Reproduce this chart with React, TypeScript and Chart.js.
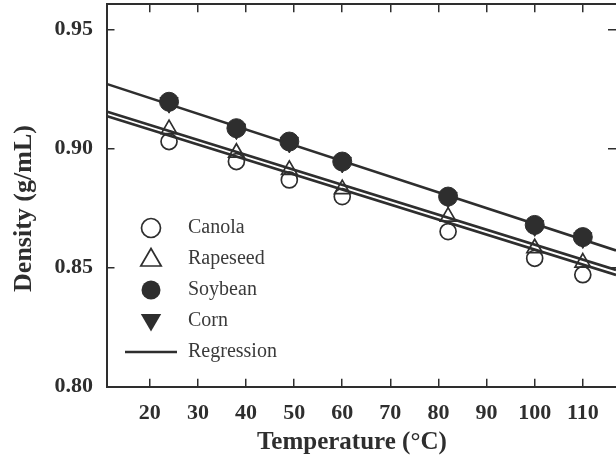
import React, { useEffect, useRef } from "react";
import { Chart, registerables } from "chart.js";

Chart.register(...registerables);

// ---- data ----
const temperatures = [24, 38, 49, 60, 82, 100, 110];
const canola = [0.9029, 0.8945, 0.8868, 0.8798, 0.8651, 0.8539, 0.847];
const rapeseed = [0.9081, 0.8982, 0.891, 0.8829, 0.8714, 0.8581, 0.8521];
const soybean = [0.9196, 0.9085, 0.9029, 0.8945, 0.8798, 0.8679, 0.8628];
const corn = [0.9192, 0.9081, 0.9025, 0.8941, 0.8794, 0.8675, 0.8624];

const regressionX = [11, 116.9];
const soybeanFit = [0.9271, 0.8572];
const rapeseedFit = [0.9155, 0.849];
const canolaFit = [0.9136, 0.8469];

const xTicks = [20, 30, 40, 50, 60, 70, 80, 90, 100, 110];
const yTicks = [0.8, 0.85, 0.9, 0.95];
const legendNames = ["Canola", "Rapeseed", "Soybean", "Corn", "Regression"];
const legendKinds = ["circle", "up", "disc", "down", "line"];

const INK = "#2e2e2e";
const SERIF = "'Liberation Serif', 'Times New Roman', serif";

function makeMarker(kind: string): HTMLCanvasElement {
  const c = document.createElement("canvas");
  if (kind === "line") {
    c.width = 52;
    c.height = 4;
    const g = c.getContext("2d")!;
    g.strokeStyle = INK;
    g.lineWidth = 2.6;
    g.beginPath();
    g.moveTo(0, 2);
    g.lineTo(52, 2);
    g.stroke();
    return c;
  }
  c.width = 26;
  c.height = 26;
  const g = c.getContext("2d")!;
  g.strokeStyle = INK;
  g.fillStyle = INK;
  g.lineWidth = 1.7;
  const cx = 13;
  const cy = 13;
  g.beginPath();
  if (kind === "circle" || kind === "disc") {
    g.arc(cx, cy, 9.5, 0, Math.PI * 2);
  } else if (kind === "up") {
    g.moveTo(cx, cy - 10.5);
    g.lineTo(cx + 10.2, cy + 7);
    g.lineTo(cx - 10.2, cy + 7);
    g.closePath();
  } else {
    g.moveTo(cx, cy + 10.5);
    g.lineTo(cx + 10.2, cy - 7);
    g.lineTo(cx - 10.2, cy - 7);
    g.closePath();
  }
  if (kind === "disc" || kind === "down") g.fill();
  else g.stroke();
  return c;
}

const legendPlacer = {
  id: "legendPlacer",
  beforeDraw(chart: any) {
    const lg = chart.legend;
    if (!lg) return;
    lg.left = 113;
    lg.top = 207;
    lg.right = 420;
    lg.bottom = 384;
    lg.width = 307;
    lg.height = 177;
  },
};

// fix an axis' thickness and drop the edge padding Chart.js reserves for labels
const sized = (prop: "width" | "height", value: number) => (s: any) => {
  s[prop] = value;
  s.paddingTop = 0;
  s.paddingBottom = 0;
  s.paddingLeft = 0;
  s.paddingRight = 0;
};

export default function App() {
  const ref = useRef<HTMLCanvasElement>(null);

  useEffect(() => {
    const canvas = ref.current;
    if (!canvas) return;
    const pts = (ys: number[]) => temperatures.map((x, i) => ({ x, y: ys[i] }));
    const fit = (ys: number[]) => regressionX.map((x, i) => ({ x, y: ys[i] }));
    const markers = legendKinds.map(makeMarker);
    const tickFont = { family: SERIF, size: 22, weight: "bold" as const };
    const grid = { drawOnChartArea: false, tickLength: -8, color: INK, lineWidth: 1.5 };
    const border = { color: INK, width: 2 };
    const fixTicks = (vals: number[]) => (s: any) => {
      s.ticks = vals.map((value) => ({ value }));
    };
    const lineDs = (label: string, ys: number[]) => ({
      label,
      data: fit(ys),
      showLine: true,
      pointRadius: 0,
      borderColor: INK,
      borderWidth: 2.6,
      backgroundColor: INK,
    });

    const chart = new Chart(canvas, {
      type: "scatter",
      data: {
        datasets: [
          {
            label: "Soybean",
            data: pts(soybean),
            pointStyle: "circle",
            pointRadius: 9.5,
            backgroundColor: INK,
            borderColor: INK,
            borderWidth: 1,
          },
          {
            label: "Corn",
            data: pts(corn),
            pointStyle: "triangle",
            pointRotation: 180,
            pointRadius: 10.5,
            backgroundColor: INK,
            borderColor: INK,
            borderWidth: 1,
          },
          {
            label: "Canola",
            data: pts(canola),
            pointStyle: "circle",
            pointRadius: 8,
            backgroundColor: "rgba(0,0,0,0)",
            borderColor: INK,
            borderWidth: 1.7,
          },
          {
            label: "Rapeseed",
            data: pts(rapeseed),
            pointStyle: "triangle",
            pointRadius: 9,
            backgroundColor: "rgba(0,0,0,0)",
            borderColor: INK,
            borderWidth: 1.7,
          },
          lineDs("Regression", soybeanFit),
          lineDs("Regression (rapeseed)", rapeseedFit),
          lineDs("Regression (canola)", canolaFit),
        ] as any,
      },
      options: {
        responsive: false,
        animation: false,
        devicePixelRatio: 1,
        events: [],
        layout: { padding: 0, autoPadding: false },
        plugins: {
          tooltip: { enabled: false },
          legend: {
            display: true,
            position: "chartArea" as any,
            align: "start",
            labels: {
              usePointStyle: true,
              pointStyleWidth: 54,
              boxHeight: 20,
              padding: 11,
              color: "#3a3a3a",
              font: { family: SERIF, size: 20 },
              generateLabels: () =>
                legendNames.map((text, i) => ({
                  text,
                  pointStyle: markers[i] as any,
                  fillStyle: "rgba(0,0,0,0)",
                  strokeStyle: "rgba(0,0,0,0)",
                  lineWidth: 0,
                  hidden: false,
                  fontColor: "#3a3a3a",
                  datasetIndex: i,
                })),
            },
          },
        },
        scales: {
          x: {
            type: "linear",
            position: "bottom",
            min: 11,
            max: 116.9,
            afterBuildTicks: fixTicks(xTicks),
            afterFit: sized("height", 78.3),
            ticks: { font: tickFont, color: INK, padding: 21.8, maxRotation: 0, autoSkip: false },
            grid,
            border,
            title: {
              display: true,
              text: "Temperature (°C)   ",
              color: INK,
              font: { family: SERIF, size: 25, weight: "bold", lineHeight: 1 },
              padding: { top: 0, bottom: 9.5 },
            },
          },
          x2: {
            type: "linear",
            position: "top",
            min: 11,
            max: 116.9,
            afterBuildTicks: fixTicks(xTicks),
            afterFit: sized("height", 4.3),
            ticks: { display: false },
            grid,
            border,
          },
          y: {
            type: "linear",
            position: "left",
            min: 0.8,
            max: 0.9605,
            afterBuildTicks: fixTicks(yTicks),
            afterFit: sized("width", 106.5),
            ticks: {
              font: tickFont,
              color: INK,
              padding: 21.5,
              autoSkip: false,
              callback: (v: any) => Number(v).toFixed(2),
            },
            grid,
            border,
            title: {
              display: true,
              text: "Density (g/mL)    ",
              color: INK,
              font: { family: SERIF, size: 26, weight: "bold", lineHeight: 1 },
              padding: { top: 11.2, bottom: 0 },
            },
          },
          y2: {
            type: "linear",
            position: "right",
            min: 0.8,
            max: 0.9605,
            afterBuildTicks: fixTicks(yTicks),
            afterFit: sized("width", 0),
            ticks: { display: false },
            grid,
            border: { display: false },
          },
        },
      } as any,
      plugins: [legendPlacer],
    });
    return () => chart.destroy();
  }, []);

  return (
    <div
      style={{
        position: "fixed",
        left: 0,
        top: 0,
        width: 616,
        height: 465,
        background: "#ffffff",
      }}
    >
      <canvas ref={ref} width={616} height={465} style={{ display: "block" }} />
    </div>
  );
}
